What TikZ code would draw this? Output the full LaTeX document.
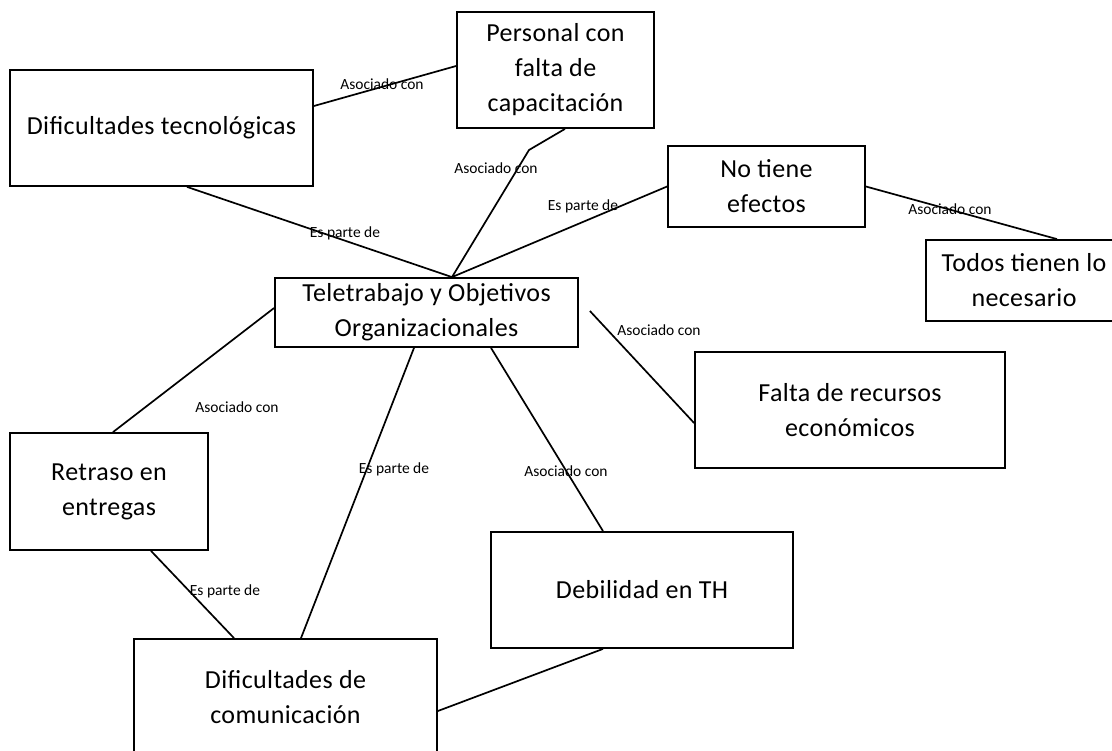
\documentclass[tikz,border=0pt]{standalone}
\usepackage{fontspec}
\setmainfont{Carlito}
\newfontfamily\boxfont[LetterSpace=1.5]{Carlito}
\usetikzlibrary{calc}
\tikzset{
  box/.style={draw, line width=1.8pt, inner sep=0pt, align=center, font=\boxfont\fontsize{26}{35}\selectfont},
  lbl/.style={inner sep=0pt, font=\fontsize{15.5}{18}\selectfont},
  conn/.style={line width=1.7pt}
}
\begin{document}
\begin{tikzpicture}[x=1pt,y=-1pt]
\useasboundingbox[fill=white] (0,0) rectangle (1112,751);
% boxes
\node[box, minimum width=303pt, minimum height=116pt] (dt) at (161.5,128) {Dificultades tecnológicas};
\node[box, minimum width=197pt, minimum height=116pt] (pers) at (555.5,70) {Personal con\\falta de\\capacitación};
\node[box, minimum width=197pt, minimum height=81pt] (nt) at (766.5,186.5) {No tiene\\efectos};
\node[box, minimum width=196pt, minimum height=81pt] (todos) at (1024,280.5) {Todos tienen lo\\necesario};
\node[box, minimum width=303pt, minimum height=69pt] (tele) at (426.5,312.5) {Teletrabajo y Objetivos\\Organizacionales};
\node[box, minimum width=310pt, minimum height=116pt] (fr) at (850,410) {Falta de recursos\\económicos};
\node[box, minimum width=198pt, minimum height=117pt] (ret) at (109,491.5) {Retraso en\\entregas};
\node[box, minimum width=302pt, minimum height=116pt] (deb) at (642,590) {Debilidad en TH};
\node[box, minimum width=303pt, minimum height=116pt] (dc) at (285.5,697) {Dificultades de\\comunicación};
% helper coordinates
\coordinate (bend) at (529,150);
% connectors
\draw[conn] ($(dt.east)+(0,-22)$) -- ($(pers.west)+(0,-4)$);
\draw[conn] ($(pers.south)+(9.5,0)$) -- (bend) -- ($(tele.north)+(25.5,0)$);
\draw[conn] ($(dt.south)+(25.5,0)$) -- ($(tele.north)+(25.5,0)$);
\draw[conn] (nt.west) -- ($(tele.north)+(25.5,0)$);
\draw[conn] (nt.east) -- ($(todos.north)+(33,0)$);
\draw[conn] ($(tele.east)+(11,-1.5)$) -- ($(fr.west)+(0,13)$);
\draw[conn] ($(tele.west)+(0,-4.5)$) -- ($(ret.north)+(4,0)$);
\draw[conn] ($(tele.south)+(-12.5,0)$) -- ($(dc.north)+(15.5,0)$);
\draw[conn] ($(tele.south)+(64.5,0)$) -- ($(deb.north)+(-39,0)$);
\draw[conn] ($(ret.south)+(42,0)$) -- ($(dc.north)+(-51.5,0)$);
\draw[conn] ($(deb.south)+(-39,0)$) -- ($(dc.east)+(0,14)$);
% labels
\node[lbl] (l1) at (382,84) {Asociado con};
\node[lbl] (l2) at (496,168) {Asociado con};
\node[lbl] (l3) at (345,233) {Es parte de};
\node[lbl] (l4) at (583,206) {Es parte de};
\node[lbl] (l5) at (950,209) {Asociado con};
\node[lbl] (l6) at (659,330) {Asociado con};
\node[lbl] (l7) at (237,407) {Asociado con};
\node[lbl] (l8) at (394,469) {Es parte de};
\node[lbl] (l9) at (566,471) {Asociado con};
\node[lbl] (l10) at (225,591) {Es parte de};
\end{tikzpicture}
\end{document}
